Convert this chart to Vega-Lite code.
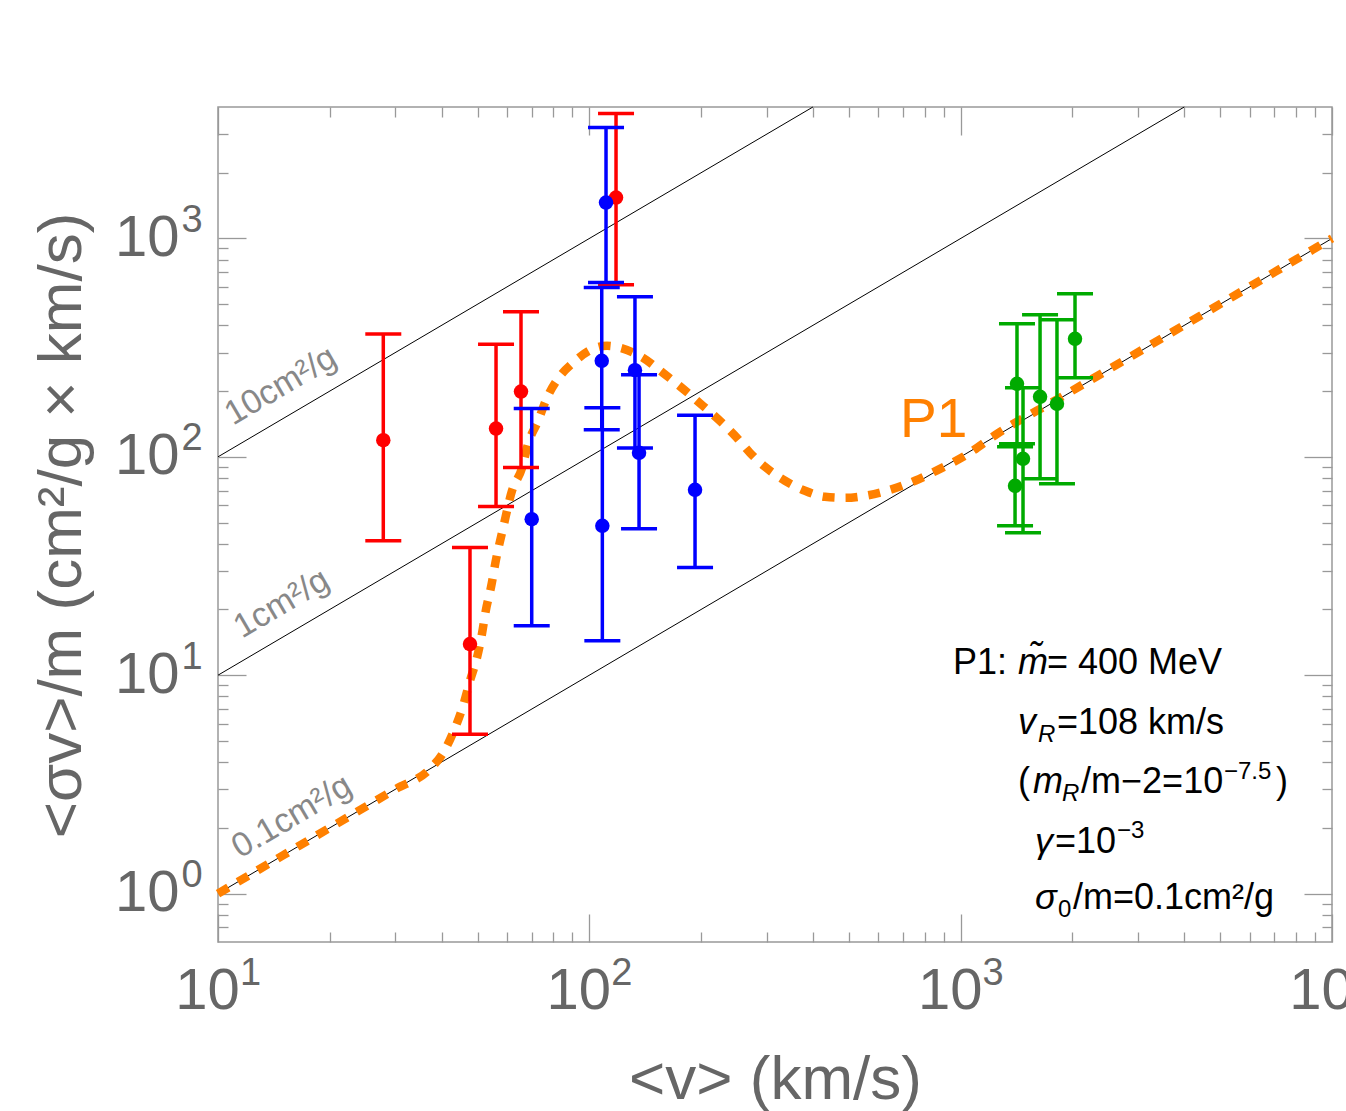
{
  "$schema": "https://vega.github.io/schema/vega-lite/v6.json",
  "width": 1114,
  "height": 835,
  "autosize": {"type": "none"},
  "padding": {"left": 218, "top": 107, "right": 14, "bottom": 169},
  "background": "white",
  "config": {
    "font": "Liberation Sans",
    "view": {"stroke": "#999999", "strokeWidth": 1.5},
    "axis": {
      "domain": false, "grid": false, "tickColor": "#999999", "tickWidth": 1.3,
      "labelColor": "#666666", "labelFont": "Liberation Sans", "labelFlush": false,
      "labelOverlap": false, "labelBound": false, "titleColor": "#666666",
      "titleFontWeight": "normal", "titleFont": "Liberation Sans"
    }
  },
  "datasets": {
    "lines": [
      {"v": 10, "s": 100, "k": "a"}, {"v": 400, "s": 4000, "k": "a"},
      {"v": 10, "s": 10, "k": "b"}, {"v": 4000, "s": 4000, "k": "b"},
      {"v": 10, "s": 1, "k": "c"}, {"v": 10000, "s": 1000, "k": "c"}
    ],
    "curve": [
      {"v": 10, "s": 1.0}, {"v": 15, "s": 1.5}, {"v": 20, "s": 2.0}, {"v": 25, "s": 2.5}, {"v": 30, "s": 3.0},
      {"v": 37.2, "s": 3.72}, {"v": 40.4, "s": 4.41}, {"v": 43.5, "s": 5.74}, {"v": 45.7, "s": 7.24},
      {"v": 47.7, "s": 9.42}, {"v": 49.8, "s": 12.0}, {"v": 51.4, "s": 15.5}, {"v": 52.6, "s": 19.7},
      {"v": 54.4, "s": 25.5}, {"v": 56.0, "s": 33.5}, {"v": 58.6, "s": 47.3}, {"v": 61.9, "s": 69.9},
      {"v": 65.9, "s": 89.0}, {"v": 68.4, "s": 114.7}, {"v": 72.8, "s": 146.2}, {"v": 76.9, "s": 186.3},
      {"v": 82.3, "s": 227.6}, {"v": 90.4, "s": 269.4}, {"v": 102.3, "s": 312.3}, {"v": 111.6, "s": 322.3},
      {"v": 120.9, "s": 315.7}, {"v": 139.5, "s": 284.1}, {"v": 157.9, "s": 242.4}, {"v": 178.8, "s": 204.8},
      {"v": 202.3, "s": 171.2}, {"v": 224.8, "s": 146.2}, {"v": 249.8, "s": 122.2}, {"v": 270.8, "s": 104.3},
      {"v": 297.2, "s": 90.0}, {"v": 336.5, "s": 77.7}, {"v": 380.9, "s": 69.9}, {"v": 431.2, "s": 65.6},
      {"v": 488.2, "s": 64.9}, {"v": 552.6, "s": 66.3}, {"v": 645.1, "s": 70.6}, {"v": 753.5, "s": 77.7},
      {"v": 879.8, "s": 88.1}, {"v": 1027, "s": 101.1}, {"v": 1253, "s": 127.4}, {"v": 1829, "s": 184.3},
      {"v": 2500, "s": 251}, {"v": 4000, "s": 401}, {"v": 7000, "s": 701}, {"v": 10000, "s": 1001}
    ],
    "bars": [
      {"g": "r", "v": 27.87, "y": 119.2, "lo": 41.24, "hi": 364.8},
      {"g": "r", "v": 47.71, "y": 13.88, "lo": 5.37, "hi": 38.42},
      {"g": "r", "v": 56.07, "y": 134.8, "lo": 59.2, "hi": 328.2},
      {"g": "r", "v": 65.46, "y": 199.1, "lo": 89.3, "hi": 461.5},
      {"g": "r", "v": 118.0, "y": 1540, "lo": 613.4, "hi": 3735},
      {"g": "b", "v": 69.96, "y": 51.8, "lo": 16.83, "hi": 166.4},
      {"g": "b", "v": 110.9, "y": 1461, "lo": 628.5, "hi": 3222},
      {"g": "b", "v": 108.0, "y": 275.3, "lo": 132.9, "hi": 596.2},
      {"g": "b", "v": 108.4, "y": 48.3, "lo": 14.37, "hi": 167.6},
      {"g": "b", "v": 132.7, "y": 249.5, "lo": 109.9, "hi": 540.5},
      {"g": "b", "v": 136.1, "y": 104.3, "lo": 46.8, "hi": 237.4},
      {"g": "b", "v": 192.6, "y": 70.6, "lo": 31.1, "hi": 155.2},
      {"g": "g", "v": 1418, "y": 216.0, "lo": 114.7, "hi": 406.6},
      {"g": "g", "v": 1472, "y": 97.9, "lo": 44.9, "hi": 207.0},
      {"g": "g", "v": 1401, "y": 73.7, "lo": 48.3, "hi": 111.1},
      {"g": "g", "v": 1636, "y": 188.3, "lo": 79.3, "hi": 447.0},
      {"g": "g", "v": 1817, "y": 174.9, "lo": 75.2, "hi": 424.0},
      {"g": "g", "v": 2032, "y": 347.1, "lo": 230.0, "hi": 557.9}
    ],
    "linelabels": [
      {"v": 10.975, "s": 138.7, "t": "10cm²/g"},
      {"v": 11.6, "s": 14.67, "t": "1cm²/g"},
      {"v": 11.46, "s": 1.442, "t": "0.1cm²/g"}
    ],
    "p1": [{"v": 686.6, "s": 123.5, "t": "P1"}],
    "notes": [
      {"v": 953.7, "s": 10.14, "t": "P1:", "k": "n"},
      {"v": 1427, "s": 10.14, "t": "m̃", "k": "i"},
      {"v": 1708, "s": 10.14, "t": "= 400 MeV", "k": "n"},
      {"v": 1427, "s": 5.387, "t": "v", "k": "i"},
      {"v": 1616, "s": 4.953, "t": "R", "k": "si"},
      {"v": 1817, "s": 5.387, "t": "=108 km/s", "k": "n"},
      {"v": 1427, "s": 2.892, "t": "(", "k": "n"},
      {"v": 1566, "s": 2.892, "t": "m", "k": "i"},
      {"v": 1875, "s": 2.658, "t": "R", "k": "si"},
      {"v": 2110, "s": 2.892, "t": "/m−2=10", "k": "n"},
      {"v": 5119, "s": 3.352, "t": "−7.5", "k": "s"},
      {"v": 7068, "s": 2.892, "t": ")", "k": "n"},
      {"v": 1586, "s": 1.536, "t": "γ", "k": "i"},
      {"v": 1795, "s": 1.536, "t": "=10", "k": "n"},
      {"v": 2636, "s": 1.799, "t": "−3", "k": "s"},
      {"v": 1586, "s": 0.851, "t": "σ", "k": "i"},
      {"v": 1829, "s": 0.782, "t": "0", "k": "s"},
      {"v": 2007, "s": 0.851, "t": "/m=0.1cm²/g", "k": "n"}
    ]
  },
  "resolve": {"axis": {"x": "independent", "y": "independent"}},
  "layer": [
    {
      "data": {"name": "lines"},
      "mark": {"type": "line", "color": "black", "strokeWidth": 1},
      "encoding": {
        "x": {"field": "v", "type": "quantitative", "scale": {"type": "log", "domain": [10, 10000], "nice": false},
          "axis": {"orient": "bottom", "values": [10, 100, 1000, 10000], "tickSize": -28, "labelExpr": "'10'",
            "labelFontSize": 58, "labelOffset": -11, "labelPadding": 94, "labelBaseline": "alphabetic", "labelAlign": "center",
            "title": "<v> (km/s)", "titleFontSize": 62, "titleX": 557, "titleY": 156, "titleAlign": "center", "titleBaseline": "alphabetic"}},
        "y": {"field": "s", "type": "quantitative", "scale": {"type": "log", "domain": [0.6, 4000], "nice": false},
          "axis": {"orient": "left", "values": [1, 10, 100, 1000], "tickSize": -28, "labelExpr": "'10'",
            "labelFontSize": 58, "labelPadding": 67, "labelBaseline": "middle", "labelAlign": "right",
            "title": "<σv>/m (cm²/g × km/s)", "titleFontSize": 62, "titleX": -138, "titleY": 418, "titleAngle": 270,
            "titleAlign": "center", "titleBaseline": "alphabetic"}},
        "detail": {"field": "k"}
      }
    },
    {
      "data": {"name": "curve"},
      "mark": {"type": "line", "color": "#ff8000", "strokeWidth": 8.5, "strokeDash": [12, 11], "interpolate": "monotone", "strokeCap": "butt"},
      "encoding": {
        "x": {"field": "v", "type": "quantitative", "scale": {"type": "log", "domain": [10, 10000], "nice": false},
          "axis": {"orient": "bottom", "values": [20, 30, 40, 50, 60, 70, 80, 90, 200, 300, 400, 500, 600, 700, 800, 900, 2000, 3000, 4000, 5000, 6000, 7000, 8000, 9000],
            "tickSize": -10, "labels": false, "title": null}},
        "y": {"field": "s", "type": "quantitative", "scale": {"type": "log", "domain": [0.6, 4000], "nice": false},
          "axis": {"orient": "left", "values": [0.7, 0.8, 0.9, 2, 3, 4, 5, 6, 7, 8, 9, 20, 30, 40, 50, 60, 70, 80, 90, 200, 300, 400, 500, 600, 700, 800, 900, 2000, 3000],
            "tickSize": -10, "labels": false, "title": null}}
      }
    },
    {
      "data": {"name": "bars"},
      "mark": {"type": "rule", "strokeWidth": 3.5},
      "encoding": {
        "x": {"field": "v", "type": "quantitative", "scale": {"type": "log", "domain": [10, 10000], "nice": false},
          "axis": {"orient": "top", "values": [10, 100, 1000, 10000], "tickSize": -28, "labels": false, "title": null}},
        "y": {"field": "lo", "type": "quantitative", "scale": {"type": "log", "domain": [0.6, 4000], "nice": false},
          "axis": {"orient": "right", "values": [1, 10, 100, 1000], "tickSize": -28, "labels": false, "title": null}},
        "y2": {"field": "hi"},
        "color": {"field": "g", "type": "nominal", "scale": {"domain": ["r", "b", "g"], "range": ["#ff0000", "#0000ff", "#00aa00"]}, "legend": null}
      }
    },
    {
      "data": {"name": "bars"},
      "mark": {"type": "tick", "orient": "horizontal", "size": 36, "thickness": 3.5, "opacity": 1},
      "encoding": {
        "x": {"field": "v", "type": "quantitative", "scale": {"type": "log", "domain": [10, 10000], "nice": false},
          "axis": {"orient": "top", "values": [20, 30, 40, 50, 60, 70, 80, 90, 200, 300, 400, 500, 600, 700, 800, 900, 2000, 3000, 4000, 5000, 6000, 7000, 8000, 9000],
            "tickSize": -10, "labels": false, "title": null}},
        "y": {"field": "lo", "type": "quantitative", "scale": {"type": "log", "domain": [0.6, 4000], "nice": false},
          "axis": {"orient": "right", "values": [0.7, 0.8, 0.9, 2, 3, 4, 5, 6, 7, 8, 9, 20, 30, 40, 50, 60, 70, 80, 90, 200, 300, 400, 500, 600, 700, 800, 900, 2000, 3000],
            "tickSize": -10, "labels": false, "title": null}},
        "color": {"field": "g", "type": "nominal", "scale": {"domain": ["r", "b", "g"], "range": ["#ff0000", "#0000ff", "#00aa00"]}, "legend": null}
      }
    },
    {
      "data": {"name": "bars"},
      "mark": {"type": "tick", "orient": "horizontal", "size": 36, "thickness": 3.5, "opacity": 1},
      "encoding": {
        "x": {"field": "v", "type": "quantitative", "scale": {"type": "log", "domain": [10, 10000], "nice": false},
          "axis": {"orient": "bottom", "values": [10, 100, 1000, 10000], "ticks": false,
            "labelExpr": "datum.value < 50 ? '1' : datum.value < 500 ? '2' : datum.value < 5000 ? '3' : '4'",
            "labelFontSize": 38, "labelOffset": 32, "labelPadding": 42, "labelBaseline": "alphabetic", "labelAlign": "center", "title": null}},
        "y": {"field": "hi", "type": "quantitative", "scale": {"type": "log", "domain": [0.6, 4000], "nice": false},
          "axis": {"orient": "left", "values": [1, 10, 100, 1000], "ticks": false,
            "labelExpr": "datum.value < 5 ? '0' : datum.value < 50 ? '1' : datum.value < 500 ? '2' : '3'",
            "labelFontSize": 38, "labelAlign": "left", "labelPadding": 37, "labelOffset": -18, "labelBaseline": "middle", "title": null}},
        "color": {"field": "g", "type": "nominal", "scale": {"domain": ["r", "b", "g"], "range": ["#ff0000", "#0000ff", "#00aa00"]}, "legend": null}
      }
    },
    {
      "data": {"name": "bars"},
      "mark": {"type": "circle", "size": 210, "opacity": 1},
      "encoding": {
        "x": {"field": "v", "type": "quantitative", "scale": {"type": "log", "domain": [10, 10000], "nice": false}, "axis": null},
        "y": {"field": "y", "type": "quantitative", "scale": {"type": "log", "domain": [0.6, 4000], "nice": false}, "axis": null},
        "color": {"field": "g", "type": "nominal", "scale": {"domain": ["r", "b", "g"], "range": ["#ff0000", "#0000ff", "#00aa00"]}, "legend": null}
      }
    },
    {
      "data": {"name": "linelabels"},
      "mark": {"type": "text", "align": "left", "baseline": "alphabetic", "angle": -30.46, "fontSize": 34, "color": "#888888"},
      "encoding": {
        "x": {"field": "v", "type": "quantitative", "scale": {"type": "log", "domain": [10, 10000], "nice": false}, "axis": null},
        "y": {"field": "s", "type": "quantitative", "scale": {"type": "log", "domain": [0.6, 4000], "nice": false}, "axis": null},
        "text": {"field": "t"}
      }
    },
    {
      "data": {"name": "p1"},
      "mark": {"type": "text", "align": "left", "baseline": "alphabetic", "fontSize": 55, "color": "#ff8000"},
      "encoding": {
        "x": {"field": "v", "type": "quantitative", "scale": {"type": "log", "domain": [10, 10000], "nice": false}, "axis": null},
        "y": {"field": "s", "type": "quantitative", "scale": {"type": "log", "domain": [0.6, 4000], "nice": false}, "axis": null},
        "text": {"field": "t"}
      }
    },
    {
      "data": {"name": "notes"},
      "transform": [{"filter": "datum.k == 'n'"}],
      "mark": {"type": "text", "align": "left", "baseline": "alphabetic", "fontSize": 36, "color": "black"},
      "encoding": {
        "x": {"field": "v", "type": "quantitative", "scale": {"type": "log", "domain": [10, 10000], "nice": false}, "axis": null},
        "y": {"field": "s", "type": "quantitative", "scale": {"type": "log", "domain": [0.6, 4000], "nice": false}, "axis": null},
        "text": {"field": "t"}
      }
    },
    {
      "data": {"name": "notes"},
      "transform": [{"filter": "datum.k == 'i'"}],
      "mark": {"type": "text", "align": "left", "baseline": "alphabetic", "fontSize": 36, "fontStyle": "italic", "color": "black"},
      "encoding": {
        "x": {"field": "v", "type": "quantitative", "scale": {"type": "log", "domain": [10, 10000], "nice": false}, "axis": null},
        "y": {"field": "s", "type": "quantitative", "scale": {"type": "log", "domain": [0.6, 4000], "nice": false}, "axis": null},
        "text": {"field": "t"}
      }
    },
    {
      "data": {"name": "notes"},
      "transform": [{"filter": "datum.k == 's'"}],
      "mark": {"type": "text", "align": "left", "baseline": "alphabetic", "fontSize": 24, "color": "black"},
      "encoding": {
        "x": {"field": "v", "type": "quantitative", "scale": {"type": "log", "domain": [10, 10000], "nice": false}, "axis": null},
        "y": {"field": "s", "type": "quantitative", "scale": {"type": "log", "domain": [0.6, 4000], "nice": false}, "axis": null},
        "text": {"field": "t"}
      }
    },
    {
      "data": {"name": "notes"},
      "transform": [{"filter": "datum.k == 'si'"}],
      "mark": {"type": "text", "align": "left", "baseline": "alphabetic", "fontSize": 24, "fontStyle": "italic", "color": "black"},
      "encoding": {
        "x": {"field": "v", "type": "quantitative", "scale": {"type": "log", "domain": [10, 10000], "nice": false}, "axis": null},
        "y": {"field": "s", "type": "quantitative", "scale": {"type": "log", "domain": [0.6, 4000], "nice": false}, "axis": null},
        "text": {"field": "t"}
      }
    }
  ]
}
